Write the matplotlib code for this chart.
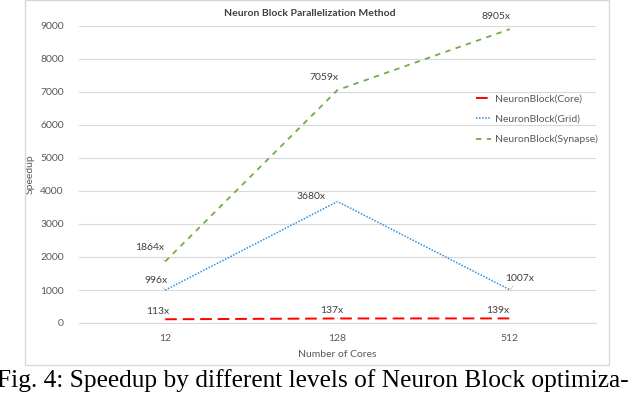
import matplotlib
matplotlib.use("Agg")
import matplotlib.pyplot as plt
from matplotlib.patches import Rectangle

# data
cores = ["12", "128", "512"]
core_speedup = [113, 137, 139]
grid_speedup = [996, 3680, 1007]
synapse_speedup = [1864, 7059, 8905]

# label offsets in pixels (dx, dy)
core_offs = [(-7, 8), (-6, 8), (-12, 8)]
grid_offs = [(-9, 10), (-26, 5), (10, 11)]
syn_offs = [(-15, 14), (-14, 13), (-14, 13)]

W, H = 640, 393
plt.rcParams["font.family"] = ["Lato", "DejaVu Sans"]
fig = plt.figure(figsize=(W / 100, H / 100), dpi=100)

# chart frame
fig.patches.append(Rectangle((25 / W, (H - 365) / H), 584 / W, 365 / H,
                             transform=fig.transFigure, fill=False,
                             edgecolor="#D9D9D9", lw=1))

ax = fig.add_axes([79 / W, 70 / H, 517 / W, 297 / H])
x = range(len(cores))
l1, = ax.plot(x, core_speedup, color="#FF0000", lw=1.4, dashes=(6, 3),
              label="NeuronBlock(Core)")
l2, = ax.plot(x, grid_speedup, color="#2E8FE0", lw=1.1, dashes=(1, 1),
              label="NeuronBlock(Grid)")
l3, = ax.plot(x, synapse_speedup, color="#70AD47", lw=1.3, dashes=(3, 3),
              label="NeuronBlock(Synapse)")

for vals, offs in [(core_speedup, core_offs), (grid_speedup, grid_offs),
                   (synapse_speedup, syn_offs)]:
    for i, v in enumerate(vals):
        ax.annotate(f"{v}x", (i, v), xytext=offs[i], textcoords="offset pixels",
                    ha="center", va="center", fontsize=7.5, color="#404040",
                    arrowprops=dict(arrowstyle="-", color="#C8C8C8", lw=0.6,
                                    shrinkA=5, shrinkB=0))

ax.set_xlim(-0.5, 2.5)
ax.set_ylim(0, 9000)
ax.set_yticks(range(0, 9001, 1000))
ax.set_xticks(list(x))
ax.set_xticklabels(cores)
ax.grid(axis="y", color="#D9D9D9", lw=0.8)
ax.set_axisbelow(True)
for s in ["top", "right", "left"]:
    ax.spines[s].set_visible(False)
ax.spines["bottom"].set_color("#D9D9D9")
ax.tick_params(length=0, labelsize=7.5, labelcolor="#595959", pad=8)
ax.tick_params(axis="y", pad=11)
ax.set_xlabel("Number of Cores", fontsize=7.5, color="#595959", labelpad=5)
ax.set_ylabel("Speedup", fontsize=7.5, color="#595959", labelpad=4)

fig.text(310 / W, 1 - 14 / H, "Neuron Block Parallelization Method",
         ha="center", va="center", fontsize=7.5, fontweight="bold", color="#404040")

ax.legend(handles=[l1, l2, l3], loc="upper left", frameon=False,
          bbox_to_anchor=(467 / W, 1 - 85 / H), bbox_transform=fig.transFigure,
          fontsize=7.5, handlelength=1.4, handletextpad=0.4, labelspacing=1.05,
          labelcolor="#595959")

fig.text(-3 / W, 1 - 387 / H,
         "Fig. 4: Speedup by different levels of Neuron Block optimiza-",
         ha="left", va="baseline", fontsize=18.3, family="Liberation Serif")

fig.savefig("out.png", dpi=100)
